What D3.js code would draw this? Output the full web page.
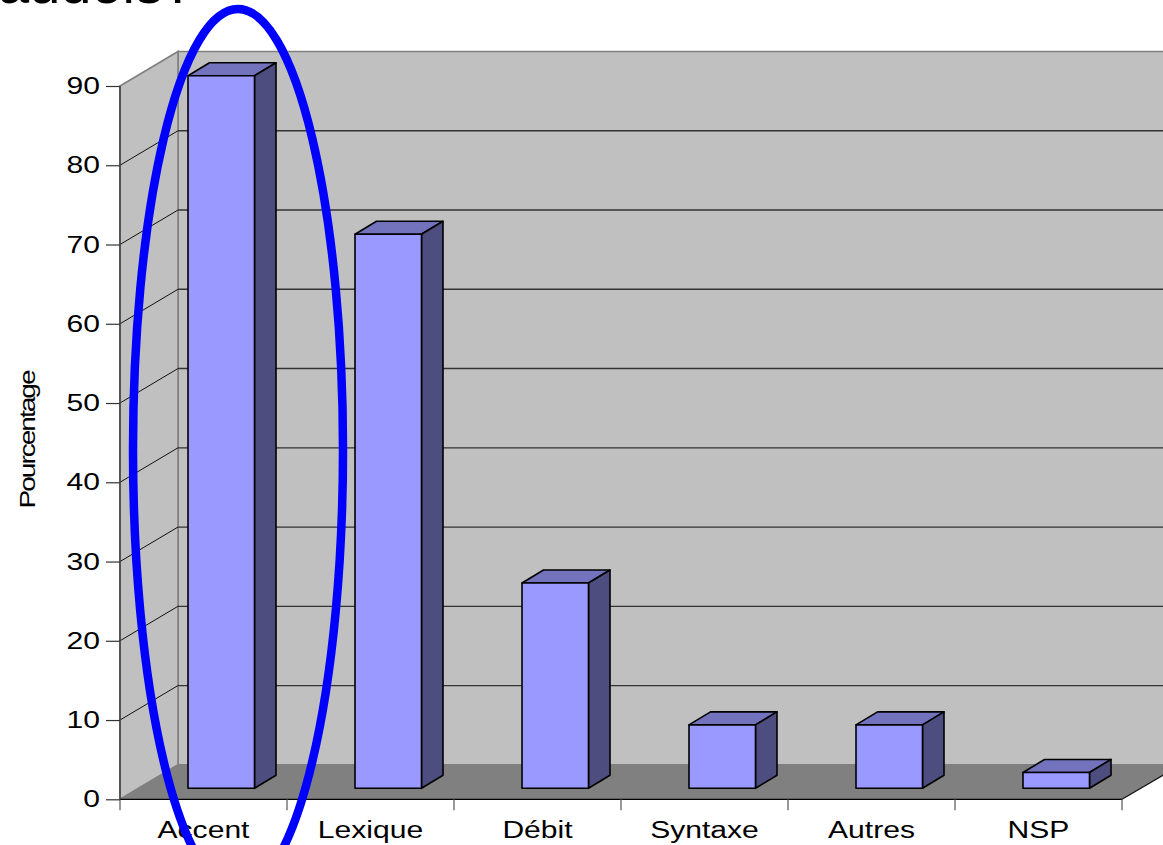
<!DOCTYPE html>
<html><head><meta charset="utf-8">
<script src="https://cdn.jsdelivr.net/npm/d3@7"></script>
<style>html,body{margin:0;padding:0;background:#fff}svg{display:block}text{font-family:"Liberation Sans",Arial,sans-serif;fill:#000}</style>
</head><body><div id="c"></div>
<script>
const categories=["Accent","Lexique","Débit","Syntaxe","Autres","NSP"];
const values=[89.9,69.9,25.9,8,8,2];
const yTicks=[0,10,20,30,40,50,60,70,80,90];
const yTitle="Pourcentage";
const titleText="audois?";

const W=1163,H=845;
const svg=d3.select("#c").append("svg").attr("width",W).attr("height",H);
const x=d3.scaleBand().domain(categories).range([120,1122]);
const y=d3.scaleLinear().domain([0,90]).range([799.3,86]);
const dx=58,dy=-34.5, bdx=21.5,bdy=-13;
const barOff=68,barW=66.5,barLift=11;
const wall="#c0c0c0",floor="#808080",gridC="#333",wallEdge="#808080";
const L=x.range()[0],R=x.range()[1];
const line=d3.line();
const sx=1.28;

// title fragment
svg.append("text").attr("x",-2).attr("y",3).attr("font-size",56).text(titleText);

// back wall, side wall, floor
svg.append("path").attr("d",line([[L+dx,y(90)+dy],[W+5,y(90)+dy],[W+5,y(0)+dy],[L+dx,y(0)+dy]])+"Z").attr("fill",wall).attr("stroke",wallEdge).attr("stroke-width",1.6);
svg.append("path").attr("d",line([[L,y(90)],[L+dx,y(90)+dy],[L+dx,y(0)+dy],[L,y(0)]])+"Z").attr("fill",wall).attr("stroke",wallEdge).attr("stroke-width",1.6);
svg.append("path").attr("d",line([[L,y(0)],[L+dx,y(0)+dy],[W+5,y(0)+dy],[W,775],[R,y(0)]])+"Z").attr("fill",floor);

// gridlines
yTicks.filter(d=>d>0&&d<90).forEach(d=>{
  svg.append("path").attr("d",line([[L,y(d)],[L+dx,y(d)+dy]])).attr("fill","none").attr("stroke","#111").attr("stroke-width",1);
  svg.append("path").attr("d",line([[L+dx,y(d)+dy],[W+5,y(d)+dy]])).attr("fill","none").attr("stroke",gridC).attr("stroke-width",1.3);
});

// bars
const bars=svg.append("g").selectAll("g").data(categories.map((c,i)=>({c,v:values[i]}))).join("g");
bars.each(function(d){
  const g=d3.select(this);
  const x0=x(d.c)+barOff,x1=x0+barW;
  const yb=y(0)-barLift,yt=y(d.v)-barLift;
  g.append("path").attr("d",line([[x0,yt],[x0+bdx,yt+bdy],[x1+bdx,yt+bdy],[x1,yt]])+"Z").attr("fill","#7373bd");
  g.append("path").attr("d",line([[x1,yt],[x1+bdx,yt+bdy],[x1+bdx,yb+bdy],[x1,yb]])+"Z").attr("fill","#4d4d80");
  g.append("rect").attr("x",x0).attr("y",yt).attr("width",barW).attr("height",yb-yt).attr("fill","#9999ff");
  g.selectAll("path,rect").attr("stroke","#000").attr("stroke-width",1.6).attr("stroke-linejoin","round");
});

// axes
const yAxis=d3.axisLeft(y).tickValues(yTicks).tickSize(14).tickPadding(6);
const gy=svg.append("g").attr("transform",`translate(${L},0)`).call(yAxis);
gy.select(".domain").attr("stroke","#444").attr("stroke-width",1.6).attr("d",`M0,${y(90)}V${y(0)}`);
gy.selectAll("line").attr("stroke","#333").attr("stroke-width",1.2);
gy.selectAll("text").attr("font-size",23.5).attr("font-family",'"Liberation Sans"').attr("x",-20/sx).attr("transform",`scale(${sx},1)`);

const xEdges=d3.range(categories.length+1).map(i=>L+i*x.step());
const gx=svg.append("g");
gx.append("line").attr("x1",L).attr("x2",R).attr("y1",y(0)).attr("y2",y(0)).attr("stroke","#000").attr("stroke-width",1.3);
gx.selectAll("line.t").data(xEdges).join("line").attr("class","t").attr("x1",d=>d).attr("x2",d=>d).attr("y1",y(0)).attr("y2",y(0)+11).attr("stroke","#555").attr("stroke-width",1.2);
gx.selectAll("text").data(categories).join("text")
  .attr("transform",d=>`translate(${x(d)+x.bandwidth()/2},838) scale(${sx},1)`)
  .attr("text-anchor","middle").attr("font-size",23.5).text(d=>d);
svg.append("path").attr("d",line([[R,y(0)],[W+5,y(0)-27]])).attr("fill","none").attr("stroke","#111").attr("stroke-width",1.2);

// axis title
svg.append("text").attr("transform","translate(35,440) rotate(-90) scale(1.28,1)").attr("text-anchor","middle").attr("font-size",22).style("letter-spacing","-1.6px").text(yTitle);

// highlight ellipse
svg.append("ellipse").attr("cx",238).attr("cy",450).attr("rx",105).attr("ry",441).attr("fill","none").attr("stroke","#0000ff").attr("stroke-width",8.5);
</script></body></html>
